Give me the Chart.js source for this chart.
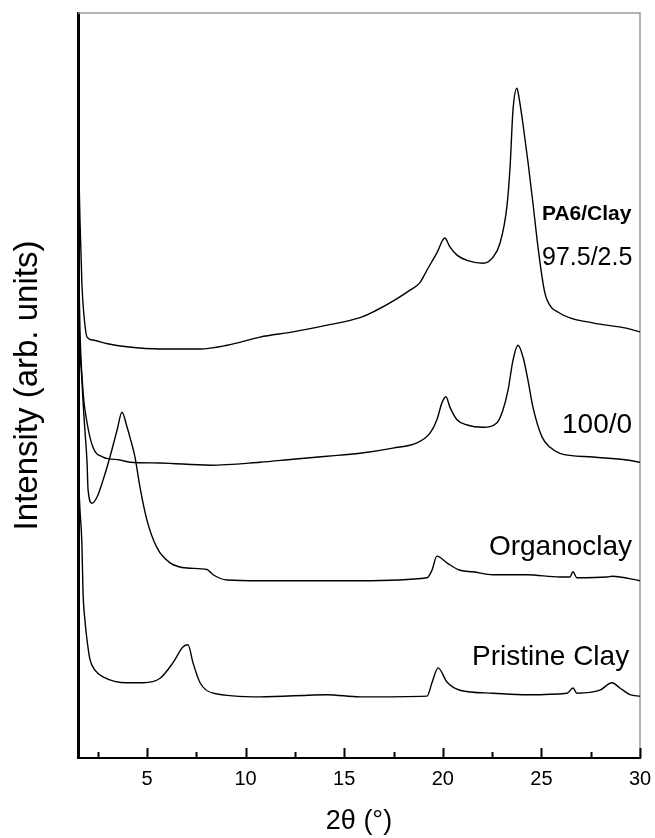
<!DOCTYPE html>
<html>
<head>
<meta charset="utf-8">
<script src="https://cdn.jsdelivr.net/npm/chart.js@4.4.1/dist/chart.umd.min.js"></script>
<style>
  html, body { margin: 0; padding: 0; background: #fff; }
  canvas { display: block; }
</style>
</head>
<body>
<canvas id="xrd" width="655" height="838"></canvas>
<script>
// DATA (2theta in degrees, intensity in arb. units)
const pa6ClayAngle = [1.5, 1.6, 1.7, 1.8, 1.96, 2.26, 3.0, 3.98, 5.66, 7.69, 9.06, 10.73, 12.4, 14.13, 15.8, 16.56, 17.58, 18.34, 18.84, 19.2, 19.7, 20.1, 20.36, 20.72, 21.23, 22.04, 22.54, 22.9, 23.25, 23.41, 23.56, 23.76, 23.86, 24.07, 24.32, 24.57, 24.83, 25.13, 25.28, 25.94, 27.6, 29.3, 30];
const pa6ClayIntensity = [84.3, 72.2, 63.5, 59.5, 56.5, 56.1, 55.6, 55.2, 54.9, 54.9, 55.4, 56.5, 57.2, 58.1, 59.1, 60.0, 61.5, 62.8, 63.8, 65.5, 67.8, 69.8, 68.6, 67.5, 66.8, 66.4, 67.2, 69.1, 74.0, 79.3, 87.0, 89.9, 88.7, 85.0, 80.0, 74.5, 68.5, 63.0, 61.5, 59.7, 58.4, 57.7, 57.2];

const pa6Angle = [1.5, 1.6, 1.75, 1.96, 2.26, 2.77, 3.63, 4.14, 5.66, 8.19, 10.73, 12.4, 14.13, 15.8, 17.47, 18.69, 19.35, 19.7, 19.96, 20.16, 20.36, 20.72, 21.23, 22.04, 22.75, 23.05, 23.31, 23.56, 23.81, 24.07, 24.32, 24.57, 25.03, 25.44, 25.94, 27.62, 29.34, 30];
const pa6Intensity = [71.5, 57.4, 49.4, 45.0, 41.7, 40.4, 40.0, 39.7, 39.6, 39.3, 39.7, 40.1, 40.5, 40.9, 41.6, 42.3, 43.6, 45.4, 47.7, 48.5, 47.1, 45.4, 44.7, 44.4, 45.0, 46.7, 49.4, 53.4, 55.4, 53.8, 50.7, 47.1, 43.1, 41.7, 40.9, 40.4, 40.0, 39.7];

const organoAngle = [1.5, 1.6, 1.7, 1.75, 1.85, 1.96, 2.01, 2.21, 2.46, 2.77, 3.12, 3.48, 3.73, 3.98, 4.14, 4.39, 4.64, 5.0, 5.51, 6.17, 7.03, 8.04, 8.35, 9.06, 10.73, 15.8, 19.2, 19.45, 19.7, 20.21, 20.87, 21.53, 22.54, 24.27, 25.94, 26.45, 26.6, 26.8, 28.33, 28.6, 30];
const organoIntensity = [61.5, 54.8, 50.7, 48.1, 44.0, 39.6, 36.0, 34.2, 35.0, 37.3, 40.4, 44.0, 46.4, 44.5, 43.0, 40.4, 36.4, 31.9, 28.2, 26.2, 25.5, 25.3, 24.6, 23.9, 23.8, 23.8, 24.2, 25.2, 27.1, 26.2, 25.2, 25.0, 24.6, 24.6, 24.3, 24.3, 25.0, 24.2, 24.3, 24.4, 23.8];

const pristineAngle = [1.5, 1.6, 1.7, 1.75, 1.85, 1.96, 2.11, 2.36, 2.77, 3.98, 4.8, 5.66, 6.32, 6.82, 7.08, 7.33, 7.69, 8.35, 10.73, 14.13, 15.8, 19.2, 19.45, 19.76, 20.21, 20.87, 22.54, 24.27, 26.3, 26.6, 26.8, 27.97, 28.58, 28.98, 29.49, 30];
const pristineIntensity = [38.7, 33.3, 28.6, 22.6, 18.5, 15.8, 13.2, 11.8, 10.9, 10.1, 10.1, 10.7, 12.8, 14.9, 15.2, 12.8, 10.1, 8.7, 8.2, 8.5, 8.2, 8.3, 10.1, 12.1, 10.2, 9.1, 8.7, 8.5, 8.7, 9.4, 8.7, 9.1, 10.1, 9.4, 8.5, 8.3];

const xTickValues = [5, 10, 15, 20, 25, 30];
const xMinorTickValues = [2.5, 7.5, 12.5, 17.5, 22.5, 27.5];
const curveLabels = ["PA6/Clay", "97.5/2.5", "100/0", "Organoclay", "Pristine Clay"];

const FONT = "'Liberation Sans', Arial, Helvetica, sans-serif";

function toPoints(xs, ys) {
  return xs.map((x, i) => ({ x: x, y: ys[i] }));
}

function lineSet(label, xs, ys) {
  return {
    label: label,
    data: toPoints(xs, ys),
    borderColor: "#000",
    borderWidth: 1.4,
    pointRadius: 0,
    cubicInterpolationMode: "monotone",
    fill: false
  };
}

// gray frame on top and right
const framePlugin = {
  id: "frame",
  beforeDatasetsDraw(chart) {
    const { ctx, chartArea: a } = chart;
    ctx.save();
    ctx.strokeStyle = "#999";
    ctx.lineWidth = 1.5;
    ctx.beginPath();
    ctx.moveTo(a.left, a.top);
    ctx.lineTo(a.right, a.top);
    ctx.lineTo(a.right, a.bottom);
    ctx.stroke();
    ctx.restore();
  }
};

// tick marks pointing into the plot
const innerTicksPlugin = {
  id: "innerTicks",
  afterDraw(chart) {
    const { ctx, scales: { x } } = chart;
    const base = x.top;
    ctx.save();
    ctx.strokeStyle = "#000";
    ctx.lineWidth = 2;
    ctx.beginPath();
    xTickValues.forEach(v => {
      const px = Math.round(x.getPixelForValue(v)) + 0.5;
      ctx.moveTo(px, base);
      ctx.lineTo(px, base - 10);
    });
    xMinorTickValues.forEach(v => {
      const px = Math.round(x.getPixelForValue(v)) + 0.5;
      ctx.moveTo(px, base);
      ctx.lineTo(px, base - 6);
    });
    ctx.stroke();
    ctx.restore();
  }
};

// curve names
const labelPos = [
  { x: 25.03, y: 72.2, align: "left", font: "bold 21px " + FONT },
  { x: 25.03, y: 66.2, align: "left", font: "25px " + FONT },
  { x: 29.6, y: 43.6, align: "right", font: "28px " + FONT },
  { x: 29.6, y: 27.2, align: "right", font: "28px " + FONT },
  { x: 29.45, y: 12.5, align: "right", font: "28px " + FONT }
];

const curveLabelPlugin = {
  id: "curveLabels",
  afterDraw(chart) {
    const { ctx, scales: { x, y } } = chart;
    ctx.save();
    ctx.fillStyle = "#000";
    ctx.textBaseline = "alphabetic";
    curveLabels.forEach((txt, i) => {
      const p = labelPos[i];
      ctx.font = p.font;
      ctx.textAlign = p.align;
      ctx.fillText(txt, x.getPixelForValue(p.x), y.getPixelForValue(p.y));
    });
    ctx.restore();
  }
};

new Chart(document.getElementById("xrd"), {
  type: "line",
  data: {
    datasets: [
      lineSet("PA6/Clay 97.5/2.5", pa6ClayAngle, pa6ClayIntensity),
      lineSet("100/0", pa6Angle, pa6Intensity),
      lineSet("Organoclay", organoAngle, organoIntensity),
      lineSet("Pristine Clay", pristineAngle, pristineIntensity)
    ]
  },
  options: {
    responsive: false,
    animation: false,
    layout: { padding: { top: 13, right: 15, bottom: 0, left: 0 } },
    plugins: {
      legend: { display: false },
      tooltip: { enabled: false }
    },
    scales: {
      x: {
        type: "linear",
        min: 1.5,
        max: 30,
        afterBuildTicks: s => { s.ticks = xTickValues.map(v => ({ value: v })); },
        afterFit: s => { s.height = 80; s.paddingLeft = 0; s.paddingRight = 0; },
        ticks: {
          color: "#000",
          font: { family: FONT, size: 20 },
          padding: 9,
          maxRotation: 0,
          callback: v => String(v)
        },
        grid: { display: false, drawTicks: false },
        border: { color: "#000", width: 2 },
        title: {
          display: true,
          text: "2θ (°)",
          color: "#000",
          font: { family: FONT, size: 27 },
          padding: { top: 0, bottom: 0 }
        }
      },
      y: {
        min: 0,
        max: 100,
        afterFit: s => { s.width = 78; },
        ticks: { display: false },
        grid: { display: false, drawTicks: false },
        border: { color: "#000", width: 3 },
        title: {
          display: true,
          text: "Intensity (arb. units)",
          color: "#000",
          font: { family: FONT, size: 33 },
          padding: { top: 8, bottom: 0 }
        }
      }
    }
  },
  plugins: [framePlugin, innerTicksPlugin, curveLabelPlugin]
});
</script>
</body>
</html>
